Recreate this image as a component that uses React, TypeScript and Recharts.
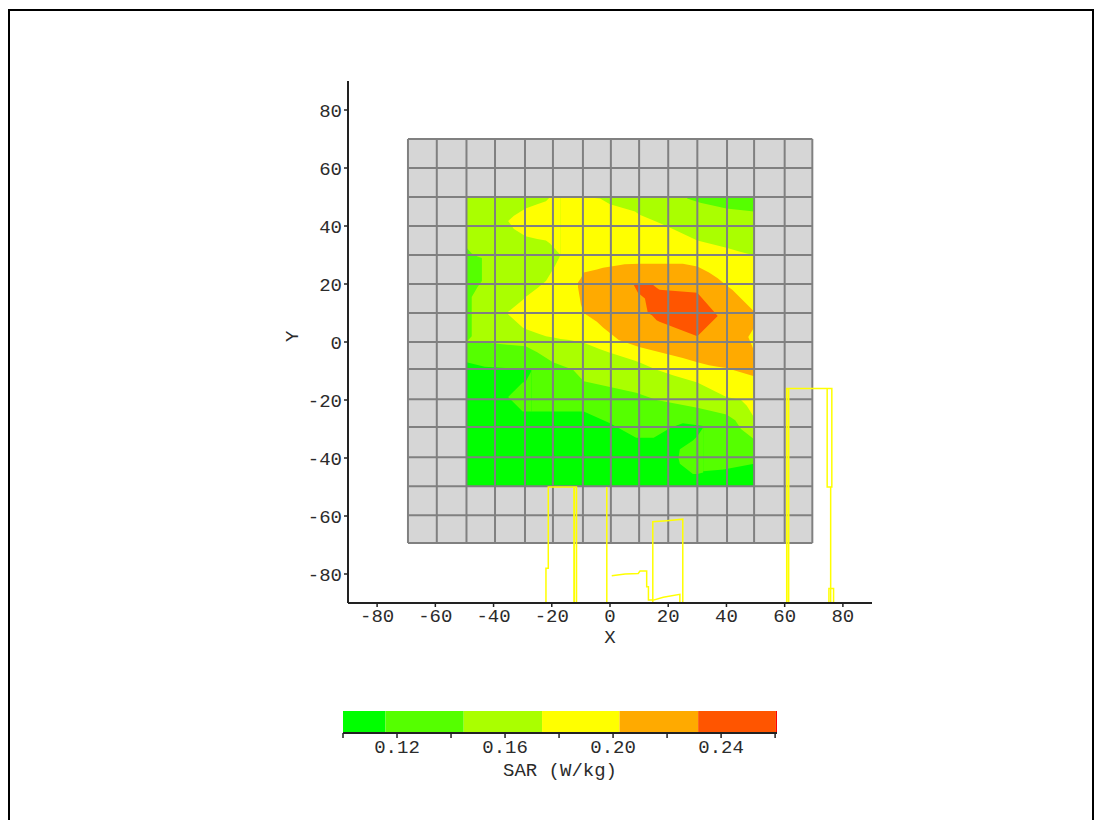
import { Area, Bar, ComposedChart, Line, ReferenceArea, ReferenceLine, XAxis, YAxis } from "recharts";

const FONT = "'Liberation Mono', 'DejaVu Sans Mono', monospace";
const INK = "#2b2b2b";

// axis ticks
const xTicks = [-80, -60, -40, -20, 0, 20, 40, 60, 80];
const yTicks = [-80, -60, -40, -20, 0, 20, 40, 60, 80];
// grid lines, they sit slightly off the round values
const gridX = [-69.4, -59.5, -49.3, -39.5, -29.2, -19.6, -9.3, 0.3, 10, 20, 30, 40.2, 49.5, 60, 69.5];
const gridY = [70, 60, 50, 40, 30, 20, 10, 0, -9.3, -19.7, -29.3, -39.7, -49.7, -59.7, -69.3];

// contour bands, each point is [x, low y, high y], painted bottom to top
const baseGreen: number[][] = [[-49.3, -49.7, 50], [49.5, -49.7, 50]];
const green12: number[][] = [
  [-49.3, -7, 50], [-43, -8.5, 50], [-27, -9.5, 50], [-27, -24, 50], [-9, -24, 50], [0, -28, 50], [9, -33, 50],
  [15, -33, 50], [21, -29.5, 50], [25, -28, 50], [32, -29, 50], [32, -44.6, 50], [39, -44, 50], [49.5, -42, 50],
];
const green12Wedge: number[][] = [[-35, -19, -19], [-30, -24, -14], [-29, -24, -13.7], [-27, -24, -10]];
const green12Island: number[][] = [
  [23.5, -40, -40], [24, -42, -37], [28.5, -45.5, -34], [30, -45.5, -32.5], [32, -45, -29.5],
];
const lime16: number[][] = [
  [-49.3, 0, 50], [-42, -0.3, 50], [-29, -1.5, 50], [-25, -3.5, 50], [-19.6, -7, 50], [-12.7, -9.6, 50], [-10, -12.5, 50],
  [-9, -13.5, 50], [9, -17.5, 50], [16, -20, 50], [30, -22.7, 50], [40, -25, 50], [43, -27, 50], [45, -30, 50], [49.5, -33.5, 50],
];
const green12Strip: number[][] = [[-49.3, 0, 32.5], [-47.5, 2, 30.5], [-47.5, 15.5, 30.5], [-45.5, 19, 29.5], [-44, 21, 29]];
const green12Corner: number[][] = [[26.5, 49.5, 50], [31, 48, 50], [40, 46, 50], [49.5, 45, 50]];
const yellowLobe: number[][] = [
  [-35, 41.7, 41.7], [-33, 39, 43.5], [-29, 36.5, 46], [-25, 35.5, 47.5], [-22, 35, 48.5], [-20.6, 34, 50], [-17, 30, 50],
];
const yellowMain: number[][] = [
  [-35.5, 10, 10], [-30, 5, 14.5], [-29, 4.5, 15.5], [-25, 3, 18.5], [-22, 2, 21], [-19, 1.5, 26], [-17, 1, 30], [-17, 1, 50], [-14, 0.7, 50],
  [-9, -0.3, 50], [-3.4, -2.5, 49.5], [0, -3.7, 47.5], [8.6, -6.5, 45], [10, -7, 44], [16, -9.6, 41.5], [21.6, -11.5, 39],
  [30, -14, 35], [40, -19, 32.5], [45, -20, 31], [47, -22, 30.5], [49.5, -26, 30],
];
const orange20: number[][] = [
  [-11, 19, 20.5], [-10, 13, 22], [-9, 10, 24], [-4.5, 7, 25], [-2.4, 5, 25.6], [3, 0.7, 26.5], [5, 0, 26.8],
  [10, -1.7, 27], [25, -5.5, 27], [30, -7, 26], [34, -8, 24], [37, -8.5, 22], [40, -9, 19.5], [42, -9.6, 18], [49.5, -11.8, 10.5],
];
const yellowNotch: number[][] = [[47.5, 1.7, 1.7], [49.5, -3, 5]];
const red24: number[][] = [
  [8, 20, 20], [9.6, 17, 20], [12, 15, 20], [13, 10, 20], [14.4, 9.2, 20], [16, 7.5, 18.7], [17, 7, 18],
  [30, 2, 17], [37, 9, 9],
];

// yellow outline traces, each point is [x, y]
const traceLeft: number[][] = [[-22, -90], [-22, -78], [-21.2, -78], [-21.2, -50], [-11.5, -50], [-11.5, -90]];
const traceLeftInner: number[][] = [[-12.3, -50], [-12.3, -90]];
const traceMiddle: number[][] = [[-1.1, -50], [-1.1, -90]];
const traceStep: number[][] = [
  [0.6, -80.6], [5.2, -80], [9.7, -79.8], [10.3, -79], [12.6, -79], [12.6, -84.4], [13.2, -84.4], [13.2, -89], [14.9, -89],
];
const traceBox: number[][] = [[14.7, -90], [14.7, -62], [19.5, -61.6], [25, -61.1], [25, -90]];
const traceBoxLow: number[][] = [[14.9, -89], [18.3, -88], [24, -87], [24, -90]];
const traceRight: number[][] = [[60.7, -90], [60.7, -16], [76.2, -16], [76.2, -50], [75.8, -50], [75.8, -90]];
const traceRightInner: number[][] = [[61.3, -90], [61.3, -16]];
const traceRightDouble: number[][] = [[74.6, -16], [74.6, -50], [75.6, -50]];
const traceRightFoot: number[][] = [[75.2, -90], [75.2, -85], [76.8, -85], [76.8, -90]];

// colour bar
const barEdges = [0.1, 0.1157, 0.1447, 0.1737, 0.2024, 0.2315, 0.2603, 0.2607];
const barColors = ["#00ff00", "#55ff00", "#aaff00", "#ffff00", "#ffaa00", "#ff5500", "#ff0000"];
const barTicks = [0.1, 0.12, 0.14, 0.16, 0.18, 0.2, 0.22, 0.24, 0.26];
const barLabels = [0.12, 0.16, 0.2, 0.24];

const bandRows = (pts: number[][]) => pts.map(([x, lo, hi]) => ({ x, range: [lo, hi] }));
const traceRows = (pts: number[][]) => pts.map(([x, y]) => ({ x, y }));

const contours: [number[][], string][] = [
  [baseGreen, "#00ff00"],
  [green12, "#55ff00"],
  [green12Wedge, "#55ff00"],
  [green12Island, "#55ff00"],
  [lime16, "#aaff00"],
  [green12Strip, "#55ff00"],
  [green12Corner, "#55ff00"],
  [yellowLobe, "#ffff00"],
  [yellowMain, "#ffff00"],
  [orange20, "#ffaa00"],
  [yellowNotch, "#ffff00"],
  [red24, "#ff5500"],
];

const traces: [number[][], number][] = [
  [traceLeft, 1.5],
  [traceLeftInner, 2],
  [traceMiddle, 1.5],
  [traceStep, 1.5],
  [traceBox, 1.5],
  [traceBoxLow, 1.5],
  [traceRight, 1.5],
  [traceRightInner, 2],
  [traceRightDouble, 1.5],
  [traceRightFoot, 1.5],
];

const tickStyle = { fontFamily: FONT, fontSize: 19, fill: INK };
const axisLine = { stroke: "#222222", strokeWidth: 2 };
const tickLine = { stroke: "#222222", strokeWidth: 1.5 };

const barRow: Record<string, number> = { name: 0, base: barEdges[0] };
barColors.forEach((_, i) => {
  barRow[`band${i}`] = barEdges[i + 1] - barEdges[i];
});

export default function App() {
  return (
    <div style={{ position: "absolute", left: 0, top: 0, width: 1094, height: 820, overflow: "hidden", background: "#fff" }}>
      <div
        style={{
          position: "absolute",
          left: 8,
          top: 9,
          width: 1082,
          height: 830,
          border: "2px solid #000",
        }}
      />
      <div style={{ position: "absolute", left: 0, top: 0 }}>
        <ComposedChart width={1094} height={680} margin={{ left: 288, right: 222, top: 81, bottom: 37 }}>
          <XAxis
            dataKey="x"
            type="number"
            domain={[-90, 90]}
            ticks={xTicks}
            interval={0}
            allowDataOverflow
            height={40}
            tick={tickStyle}
            tickSize={4}
            axisLine={axisLine}
            tickLine={tickLine}
            label={{ value: "X", position: "insideBottom", offset: 0, style: tickStyle }}
          />
          <YAxis
            type="number"
            domain={[-90, 90]}
            ticks={yTicks}
            interval={0}
            allowDataOverflow
            width={60}
            tick={tickStyle}
            tickSize={4}
            axisLine={axisLine}
            tickLine={tickLine}
            label={{ value: "Y", angle: -90, position: "insideLeft", offset: 3, style: tickStyle }}
          />
          <ReferenceArea x1={-69.4} x2={69.5} y1={-69.3} y2={70} fill="#d6d6d6" fillOpacity={1} stroke="none" />
          {contours.map(([pts, color], i) => (
            <Area
              key={i}
              data={bandRows(pts)}
              dataKey="range"
              type="linear"
              fill={color}
              fillOpacity={1}
              stroke="none"
              dot={false}
              activeDot={false}
              isAnimationActive={false}
            />
          ))}
          {gridX.map((v) => (
            <ReferenceLine key={`v${v}`} segment={[{ x: v, y: -69.3 }, { x: v, y: 70 }]} stroke="#808080" strokeWidth={2} />
          ))}
          {gridY.map((v) => (
            <ReferenceLine key={`h${v}`} segment={[{ x: -69.4, y: v }, { x: 69.5, y: v }]} stroke="#808080" strokeWidth={2} />
          ))}
          {traces.map(([pts, w], i) => (
            <Line
              key={i}
              data={traceRows(pts)}
              dataKey="y"
              type="linear"
              stroke="#ffff00"
              strokeWidth={w}
              dot={false}
              activeDot={false}
              isAnimationActive={false}
            />
          ))}
        </ComposedChart>
      </div>
      <div style={{ position: "absolute", left: 0, top: 700 }}>
        <ComposedChart
          width={1094}
          height={90}
          layout="vertical"
          data={[barRow]}
          barCategoryGap={0}
          margin={{ left: 343, right: 317, top: 11, bottom: 0 }}
        >
          <XAxis
            type="number"
            domain={[0.1, 0.2607]}
            ticks={barTicks}
            interval={0}
            allowDataOverflow
            height={57}
            tick={tickStyle}
            tickSize={5}
            tickFormatter={(v: number) => (barLabels.includes(v) ? v.toFixed(2) : "")}
            axisLine={axisLine}
            tickLine={tickLine}
            label={{ value: "SAR (W/kg)", position: "insideBottom", offset: 14, style: tickStyle }}
          />
          <YAxis type="category" dataKey="name" hide />
          <Bar dataKey="base" stackId="scale" fill="none" isAnimationActive={false} />
          {barColors.map((color, i) => (
            <Bar key={color} dataKey={`band${i}`} stackId="scale" fill={color} isAnimationActive={false} />
          ))}
        </ComposedChart>
      </div>
    </div>
  );
}
